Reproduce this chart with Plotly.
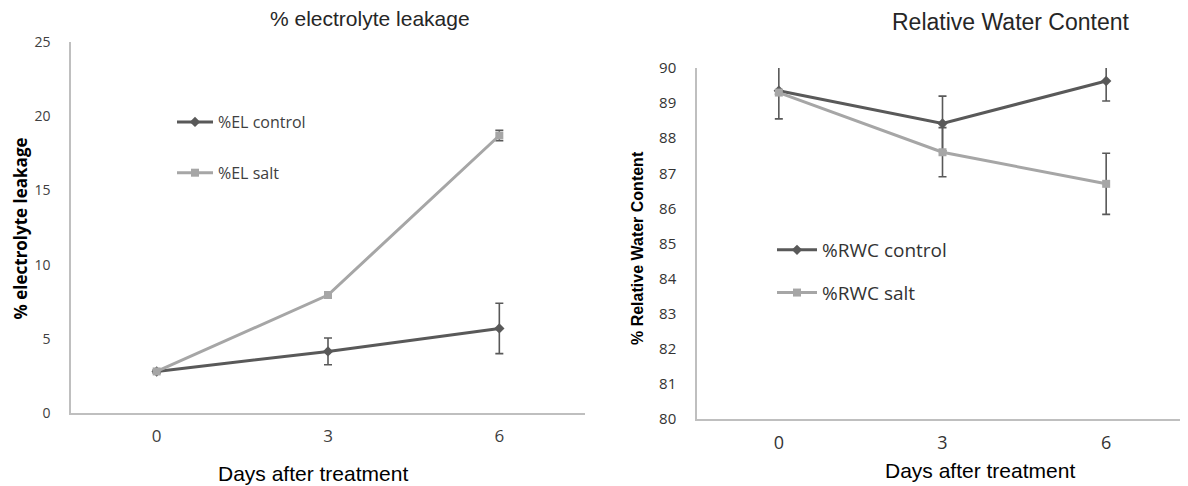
import plotly.graph_objects as go

days = ["0", "3", "6"]

el_control = [2.8, 4.15, 5.7]
el_control_err = [0.1, 0.9, 1.7]
el_salt = [2.8, 7.95, 18.7]
el_salt_err = [0.1, 0.1, 0.35]

rwc_control = [89.35, 88.42, 89.63]
rwc_control_err = [0.8, 0.78, 0.57]
rwc_salt = [89.3, 87.6, 86.7]
rwc_salt_err = [0.05, 0.7, 0.87]

OFF = 8  # page body margin
W, H = 1188 - OFF, 486 - OFF
DARK = "#595959"
LIGHT = "#A6A6A6"
AXIS = "#BFBFBF"
FAM = "Open Sans, Noto Sans, sans-serif"
ARIAL = "Liberation Sans, Arial, sans-serif"


def px(x):
    return (x - OFF) / W


def py(y):
    return 1 - (y - OFF) / H


fig = go.Figure()


def add(x, y, err, name, color, symbol, xa, ya, legend, group):
    fig.add_trace(go.Scatter(
        x=x, y=y, name=name, mode="lines+markers",
        line=dict(color=color, width=3),
        marker=dict(symbol=symbol, size=8, color=color),
        error_y=dict(type="data", array=err, visible=True, color=DARK, thickness=1.6, width=4),
        xaxis=xa, yaxis=ya, legend=legend, legendgroup=group,
    ))


add(days, el_control, el_control_err, "%EL control", DARK, "diamond", "x", "y", "legend", "a")
add(days, el_salt, el_salt_err, "%EL salt", LIGHT, "square", "x", "y", "legend", "b")
add(days, rwc_control, rwc_control_err, "%RWC control", DARK, "diamond", "x2", "y2", "legend2", "c")
add(days, rwc_salt, rwc_salt_err, "%RWC salt", LIGHT, "square", "x2", "y2", "legend2", "d")

axis_common = dict(showgrid=False, zeroline=False, showline=True, linecolor=AXIS, linewidth=1.5,
                   ticks="", automargin=False)

fig.update_layout(
    template="none",
    width=W, height=H,
    margin=dict(l=0, r=0, t=0, b=0, pad=0, autoexpand=False),
    plot_bgcolor="white", paper_bgcolor="white",
    xaxis=dict(domain=[px(71), px(585)], anchor="y", type="category", range=[-0.5, 2.5],
               ticklabelstandoff=7, tickfont=dict(family=FAM, size=17, color="#404040"), **axis_common),
    yaxis=dict(domain=[py(413), py(42)], anchor="x", range=[0, 25], dtick=5,
               ticklabelstandoff=16, tickfont=dict(family=FAM, size=14, color="#404040"), **axis_common),
    xaxis2=dict(domain=[px(697), 1.0], anchor="y2", type="category", range=[-0.5, 2.5],
                ticklabelstandoff=7, tickfont=dict(family=FAM, size=18, color="#333333"), **axis_common),
    yaxis2=dict(domain=[py(419), py(68)], anchor="x2", range=[80, 90], dtick=1,
                ticklabelstandoff=16, tickfont=dict(family=FAM, size=15, color="#333333"), **axis_common),
    legend=dict(x=px(172), y=py(105), xanchor="left", yanchor="top",
                font=dict(family=FAM, size=16, color="#404040"),
                bgcolor="rgba(0,0,0,0)", tracegroupgap=27, traceorder="grouped", itemwidth=36),
    legend2=dict(x=px(772), y=py(231), xanchor="left", yanchor="top",
                 font=dict(family=FAM, size=19, color="#333333"),
                 bgcolor="rgba(0,0,0,0)", tracegroupgap=15, traceorder="grouped", itemwidth=40),
    showlegend=True,
)

annotations = [
    dict(text="% electrolyte leakage", x=px(370), y=py(19),
         font=dict(family=ARIAL, size=21, color="#262626")),
    dict(text="Relative Water Content", x=px(1011), y=1.0, yanchor="top",
         font=dict(family=ARIAL, size=23, color="#262626")),
    dict(text="Days after treatment", x=px(313), y=py(473),
         font=dict(family=ARIAL, size=21, color="#000000")),
    dict(text="Days after treatment", x=px(980), y=py(470),
         font=dict(family=ARIAL, size=21, color="#000000")),
    dict(text="<b>% electrolyte leakage</b>", x=0.0, xanchor="left", y=py(229), textangle=-90,
         font=dict(family=FAM, size=17, color="#000000")),
    dict(text="<b>% Relative Water Content</b>", x=px(637), y=py(248), textangle=-90,
         font=dict(family=ARIAL, size=16, color="#000000")),
]
for a in annotations:
    a.setdefault("xanchor", "center")
    a.setdefault("yanchor", "middle")
    a.update(xref="paper", yref="paper", showarrow=False, borderpad=0)
fig.update_layout(annotations=annotations)

fig.write_html("out.html")
